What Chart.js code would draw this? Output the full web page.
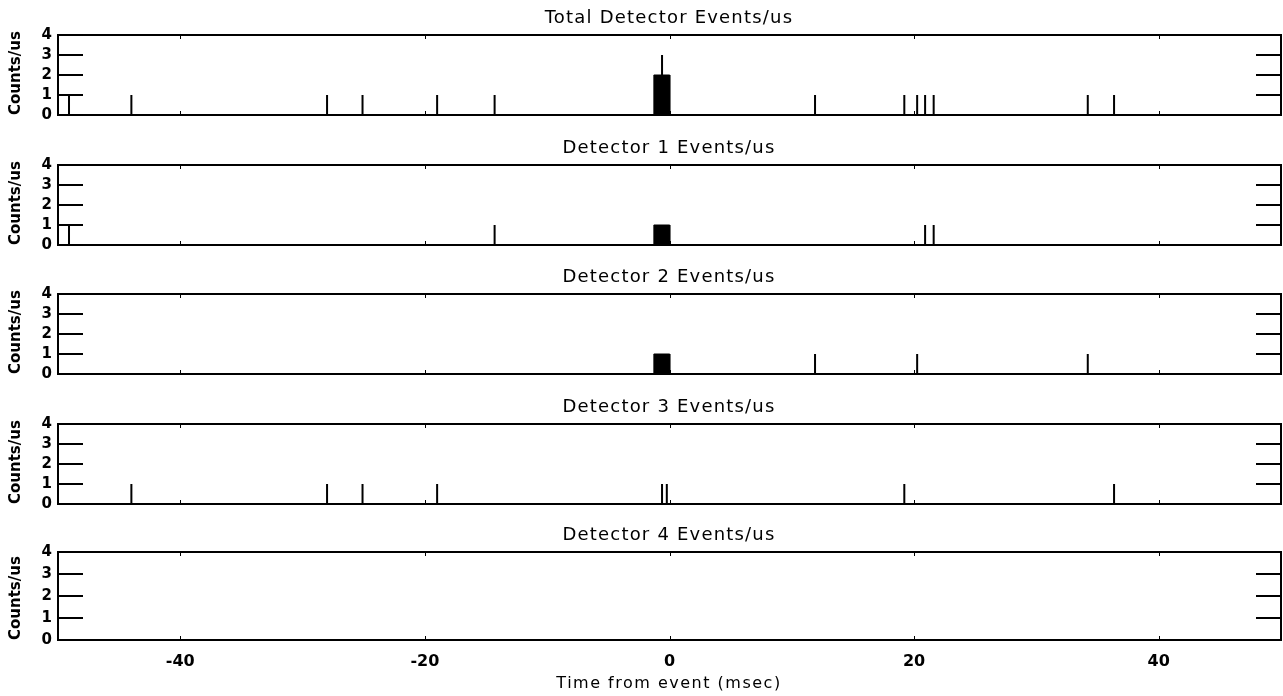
<!DOCTYPE html>
<html>
<head>
<meta charset="utf-8">
<script src="https://cdn.jsdelivr.net/npm/chart.js@4.4.0/dist/chart.umd.min.js"></script>
<style>
    html, body { margin: 0; padding: 0; background: #ffffff; }
    #page { position: relative; width: 1283px; height: 696px; overflow: hidden; }
    .panel { position: absolute; left: 0; width: 1283px; }
    .label {
        position: absolute;
        left: 58px;
        width: 1222px;
        text-align: center;
        font-family: "DejaVu Sans", sans-serif;
        color: #000000;
        white-space: nowrap;
    }
    .panel-title { font-size: 18px; line-height: 20px; letter-spacing: 1.2px; }
    .axis-title { font-size: 16px; line-height: 20px; letter-spacing: 1.5px; }
</style>
</head>
<body>
<div id="page"></div>
<script>
// Axis ranges and tick labels
const timeRange = [-50, 50];
const countRange = [0, 4];
const xTickValues = [-40, -20, 0, 20, 40];
const yTickValues = [0, 1, 2, 3, 4];
const xAxisTitle = 'Time from event (msec)';
const yAxisTitle = 'Counts/us';

const panelTitles = [
    'Total Detector Events/us',
    'Detector 1 Events/us',
    'Detector 2 Events/us',
    'Detector 3 Events/us',
    'Detector 4 Events/us'
];

// Single events: time (msec) and counts/us
const totalTimes  = [-49.1, -44.0, -28.0, -25.1, -19.0, -14.3, -0.61, 11.9, 19.2, 20.25, 20.9, 21.6, 34.2, 36.35];
const totalCounts = [1, 1, 1, 1, 1, 1, 3, 1, 1, 1, 1, 1, 1, 1];
const det1Times   = [-49.1, -14.3, 20.9, 21.6];
const det1Counts  = [1, 1, 1, 1];
const det2Times   = [11.9, 20.25, 34.2];
const det2Counts  = [1, 1, 1];
const det3Times   = [-44.0, -28.0, -25.1, -19.0, -0.61, -0.22, 19.2, 36.35];
const det3Counts  = [1, 1, 1, 1, 1, 1, 1, 1];
const det4Times   = [];
const det4Counts  = [];

// Dense burst near t=0: [start, end, counts/us]
const totalBurst = [-1.28, 0.02, 2];
const det1Burst  = [-1.28, 0.02, 1];
const det2Burst  = [-1.28, 0.02, 1];
const det3Burst  = [];
const det4Burst  = [];

const panelTimes  = [totalTimes, det1Times, det2Times, det3Times, det4Times];
const panelCounts = [totalCounts, det1Counts, det2Counts, det3Counts, det4Counts];
const panelBursts = [totalBurst, det1Burst, det2Burst, det3Burst, det4Burst];

// Layout of the stacked panels (page pixels)
const panelTops    = [0, 130, 259, 389, 517];
const panelHeights = [130, 130, 130, 130, 179];
const plotTopPad   = 35;

const fontFamily = '"DejaVu Sans", sans-serif';

// Draws the IDL style frame: box, inward major ticks on y, small ticks on x
const framePlugin = {
    id: 'frame',
    afterDatasetsDraw(chart) {
        const { ctx, chartArea: a, scales: { x, y } } = chart;
        ctx.save();
        ctx.strokeStyle = '#000000';
        ctx.lineWidth = 2;
        ctx.strokeRect(a.left, a.top, a.right - a.left, a.bottom - a.top);

        ctx.beginPath();
        yTickValues.forEach(v => {
            if (v <= countRange[0] || v >= countRange[1]) return;
            const py = Math.round(y.getPixelForValue(v));
            ctx.moveTo(a.left, py);
            ctx.lineTo(a.left + 25, py);
            ctx.moveTo(a.right - 25, py);
            ctx.lineTo(a.right, py);
        });
        ctx.stroke();

        ctx.lineWidth = 1;
        ctx.beginPath();
        xTickValues.forEach(v => {
            const px = Math.round(x.getPixelForValue(v)) + 0.5;
            ctx.moveTo(px, a.bottom);
            ctx.lineTo(px, a.bottom - 4);
            ctx.moveTo(px, a.top);
            ctx.lineTo(px, a.top + 4);
        });
        ctx.stroke();
        ctx.restore();
    }
};

// Each event becomes a vertical stroke from 0 up to its count
function buildSpikes(times, counts) {
    const points = [];
    times.forEach((t, i) => {
        points.push({ x: t, y: 0 });
        points.push({ x: t, y: counts[i] });
        points.push({ x: t, y: null });
    });
    return points;
}

function buildBurst(burst) {
    if (!burst.length) return [];
    const [start, end, counts] = burst;
    return [
        { x: start, y: 0 },
        { x: start, y: counts },
        { x: end, y: counts },
        { x: end, y: 0 }
    ];
}

function addLabel(className, text, top) {
    const div = document.createElement('div');
    div.className = 'label ' + className;
    div.style.top = top + 'px';
    div.textContent = text;
    document.getElementById('page').appendChild(div);
}

function createPanel(index) {
    const isBottom = index === panelTitles.length - 1;

    const holder = document.createElement('div');
    holder.className = 'panel';
    holder.style.top = panelTops[index] + 'px';
    holder.style.height = panelHeights[index] + 'px';
    const canvas = document.createElement('canvas');
    canvas.width = 1283;
    canvas.height = panelHeights[index];
    holder.appendChild(canvas);
    document.getElementById('page').appendChild(holder);

    // panel title sits just above the plot box
    addLabel('panel-title', panelTitles[index], panelTops[index] + plotTopPad - 28);

    new Chart(canvas, {
        type: 'line',
        data: {
            datasets: [
                {
                    data: buildBurst(panelBursts[index]),
                    borderColor: '#000000',
                    backgroundColor: '#000000',
                    borderWidth: 1,
                    fill: 'origin',
                    pointRadius: 0,
                    tension: 0
                },
                {
                    data: buildSpikes(panelTimes[index], panelCounts[index]),
                    borderColor: '#000000',
                    borderWidth: 2,
                    fill: false,
                    spanGaps: false,
                    pointRadius: 0,
                    tension: 0
                }
            ]
        },
        options: {
            responsive: false,
            animation: false,
            devicePixelRatio: 1,
            layout: { padding: { left: 0, right: 2, top: plotTopPad, bottom: isBottom ? 0 : 4 } },
            plugins: {
                legend: { display: false },
                tooltip: { enabled: false },
                title: { display: false }
            },
            scales: {
                x: {
                    type: 'linear',
                    min: timeRange[0],
                    max: timeRange[1],
                    afterBuildTicks: s => { s.ticks = xTickValues.map(v => ({ value: v })); },
                    afterFit: s => { s.height = isBottom ? 56 : 0; },
                    grid: { display: false, drawTicks: false },
                    border: { display: false },
                    ticks: {
                        display: isBottom,
                        color: '#000000',
                        padding: 12,
                        maxRotation: 0,
                        font: { family: fontFamily, size: 16, weight: 'bold' }
                    }
                },
                y: {
                    min: countRange[0],
                    max: countRange[1],
                    afterBuildTicks: s => { s.ticks = yTickValues.map(v => ({ value: v })); },
                    afterFit: s => { s.width = 58; },
                    grid: { display: false, drawTicks: false },
                    border: { display: false },
                    ticks: {
                        color: '#000000',
                        padding: 6,
                        autoSkip: false,
                        font: { family: fontFamily, size: 15, weight: 'bold' }
                    },
                    title: {
                        display: true,
                        text: yAxisTitle,
                        align: 'start',
                        color: '#000000',
                        font: { family: fontFamily, size: 15, weight: 'bold' },
                        padding: { top: 7, bottom: 0 }
                    }
                }
            }
        },
        plugins: [framePlugin]
    });
}

panelTitles.forEach((title, i) => createPanel(i));
addLabel('axis-title', xAxisTitle, 673);
</script>
</body>
</html>
